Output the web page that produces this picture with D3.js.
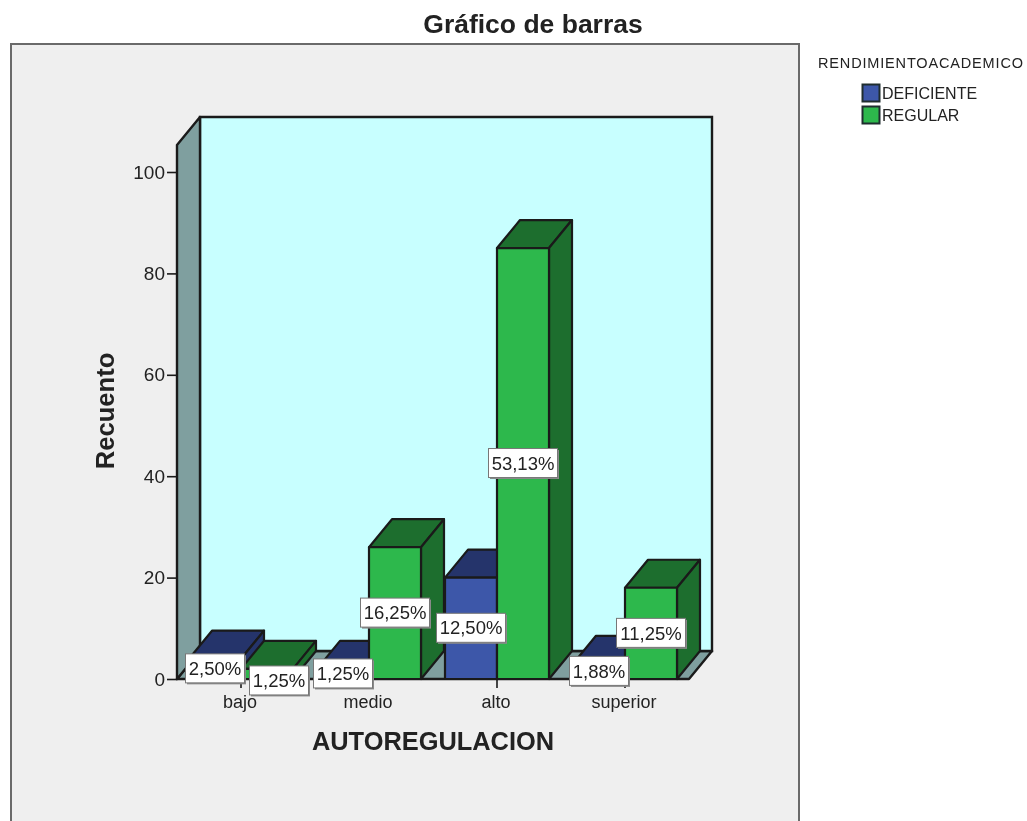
<!DOCTYPE html>
<html><head><meta charset="utf-8">
<script src="https://cdn.jsdelivr.net/npm/d3@7/dist/d3.min.js"></script>
<style>html,body{margin:0;padding:0;background:#fff}svg{display:block}text{font-family:"Liberation Sans",Arial,sans-serif;fill:#222}</style>
</head><body><div id="c"></div>
<script>
const categories = ["bajo","medio","alto","superior"];
const seriesNames = ["DEFICIENTE","REGULAR"];
const deficiente = [4,2,20,3];
const regular = [2,26,85,18];
const pctDeficiente = ["2,50%","1,25%","12,50%","1,88%"];
const pctRegular = ["1,25%","16,25%","53,13%","11,25%"];
const yTicks = [0,20,40,60,80,100];
const colors = {DEFICIENTE:{front:"#3D57A9",dark:"#25346B"},REGULAR:{front:"#2DB84C",dark:"#1D6E2E"}};

const W=1027,H=821;
const svg=d3.select("#c").append("svg").attr("width",W).attr("height",H);
const g=svg.append("g").style("filter","blur(0.55px)");
const line="#1a1a1a", wall="#7F9F9F";
const dx=23, dy=-28;

// outer panel
g.append("path").attr("d","M11,825V44H799V825Z").attr("fill","#EFEFEF").attr("stroke","#6a6a6a").attr("stroke-width",2);

const y=d3.scaleLinear().domain([0,100]).range([679,172]);
const x0=d3.scaleBand().domain(categories).range([177,689]);
const x1=d3.scaleBand().domain(seriesNames).range([x0.bandwidth()/2-52,x0.bandwidth()/2+52]);
const left=177,right=689,base=y(0),top3d=145;
const pts=a=>a.map(p=>p.join(",")).join(" ");

// walls
g.append("polygon").attr("points",pts([[left,base],[right,base],[right+dx,base+dy],[left+dx,base+dy]])).attr("fill",wall).attr("stroke",line).attr("stroke-width",2.4).attr("stroke-linejoin","round");
g.append("polygon").attr("points",pts([[left+dx,top3d+dy],[right+dx,top3d+dy],[right+dx,base+dy],[left+dx,base+dy]])).attr("fill","#C8FFFF").attr("stroke",line).attr("stroke-width",2.4);
g.append("polygon").attr("points",pts([[left,top3d],[left+dx,top3d+dy],[left+dx,base+dy],[left,base]])).attr("fill",wall).attr("stroke",line).attr("stroke-width",2.4).attr("stroke-linejoin","round");

// axes
const ya=d3.axisLeft(y).tickValues(yTicks).tickSize(10).tickPadding(2);
const yg=g.append("g").attr("transform",`translate(${left},0)`).call(ya);
yg.select(".domain").remove();
yg.selectAll("line").attr("stroke",line).attr("stroke-width",1.6);
yg.selectAll("text").attr("font-size",19).style("fill","#222");
const xa=d3.axisBottom(x0).tickSize(9).tickPadding(7);
const xg=g.append("g").attr("transform",`translate(0,${base})`).call(xa);
xg.select(".domain").attr("stroke",line).attr("stroke-width",2.2).attr("d",`M${left},0H${right}`);
xg.selectAll("line").attr("stroke",line).attr("stroke-width",1.6);
xg.selectAll("text").attr("font-size",18).attr("dx",-1).style("fill","#222");

// bars
const rows=[];
categories.forEach((c,i)=>{
  rows.push({c,s:"DEFICIENTE",v:deficiente[i],p:pctDeficiente[i]});
  rows.push({c,s:"REGULAR",v:regular[i],p:pctRegular[i]});
});
const bars=g.append("g");
rows.forEach(d=>{
  const xl=x0(d.c)+x1(d.s), w=x1.bandwidth(), yt=y(d.v), col=colors[d.s];
  const b=bars.append("g").attr("stroke",line).attr("stroke-width",2.2).attr("stroke-linejoin","round");
  b.append("polygon").attr("points",pts([[xl,yt],[xl+w,yt],[xl+w+dx,yt+dy],[xl+dx,yt+dy]])).attr("fill",col.dark);
  b.append("polygon").attr("points",pts([[xl+w,yt],[xl+w+dx,yt+dy],[xl+w+dx,base+dy],[xl+w,base]])).attr("fill",col.dark);
  b.append("rect").attr("x",xl).attr("y",yt).attr("width",w).attr("height",base-yt).attr("fill",col.front);
});

// value labels
const labels=g.append("g");
rows.forEach(d=>{
  const xc=x0(d.c)+x1(d.s)+x1.bandwidth()/2, yc=(y(d.v)+base)/2;
  const nudged=d.c==="bajo"&&d.s==="REGULAR";   // pushed aside to avoid overlap
  const cx=xc+(nudged?12:0), cy=yc+(nudged?6.5:-0.5);
  const bw=d.p.length>5?69:59, bh=29;
  labels.append("rect").attr("x",cx-bw/2+1.5).attr("y",cy-bh/2+1.5).attr("width",bw).attr("height",bh).attr("fill","#8a8a8a");
  labels.append("rect").attr("x",cx-bw/2).attr("y",cy-bh/2).attr("width",bw).attr("height",bh).attr("fill","#fff").attr("stroke","#777").attr("stroke-width",1);
  labels.append("text").attr("x",cx).attr("y",cy).attr("dy","0.36em").attr("text-anchor","middle").attr("font-size",18.5).text(d.p);
});

// titles
g.append("text").attr("x",533).attr("y",33).attr("text-anchor","middle").attr("font-size",26.5).attr("font-weight","bold").text("Gráfico de barras");
g.append("text").attr("x",433).attr("y",750).attr("text-anchor","middle").attr("font-size",25.4).attr("font-weight","bold").text("AUTOREGULACION");
g.append("text").attr("transform","translate(114,411) rotate(-90)").attr("text-anchor","middle").attr("font-size",25.6).attr("font-weight","bold").text("Recuento");

// legend
g.append("text").attr("x",818).attr("y",68).attr("font-size",14.5).attr("textLength",205).attr("lengthAdjust","spacing").text("RENDIMIENTOACADEMICO");
const ly=d3.scalePoint().domain(seriesNames).range([93,115]);
seriesNames.forEach(s=>{
  g.append("rect").attr("x",862.5).attr("y",ly(s)-8.5).attr("width",17).attr("height",17).attr("fill",colors[s].front).attr("stroke","#1f2d2f").attr("stroke-width",2);
  g.append("text").attr("x",882).attr("y",ly(s)).attr("dy","0.36em").attr("font-size",16).text(s);
});
</script></body></html>
